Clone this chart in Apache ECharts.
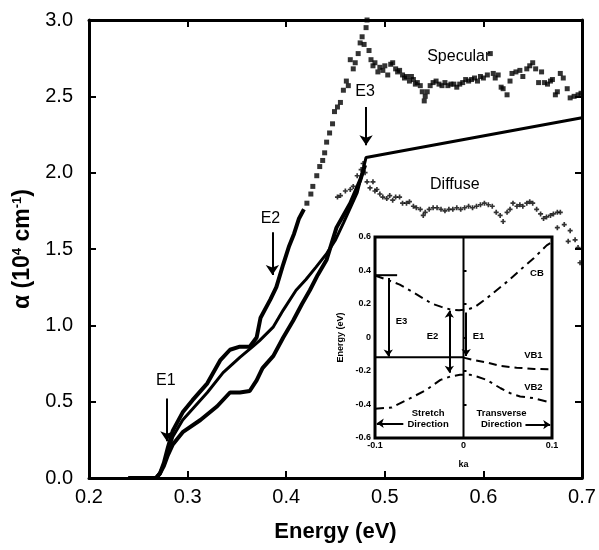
<!DOCTYPE html>
<html>
<head>
<meta charset="utf-8">
<script src="https://cdn.jsdelivr.net/npm/echarts@6/dist/echarts.min.js"></script>
<style>
  html, body { margin: 0; padding: 0; background: #fff; }
  #chart { width: 599px; height: 550px; }
</style>
</head>
<body>
<div id="chart"></div>
<script>
// ---- Absorption spectra: alpha vs photon energy ----
const specLineE = [0.240,0.268,0.272,0.276,0.280,0.285,0.295,0.305,0.320,0.333,0.343,0.353,0.363,0.370,0.374,0.384,0.390,0.397,0.403,0.408,0.413,0.418];
const specLineA = [0.00,0.00,0.03,0.10,0.20,0.31,0.43,0.51,0.62,0.77,0.84,0.86,0.86,0.92,1.05,1.17,1.25,1.40,1.52,1.60,1.70,1.76];

const specDotE = [0.421,0.425,0.427,0.431,0.434,0.437,0.439,0.441,0.444,0.447,0.449,0.452,0.455,0.458,0.461,0.463,0.465,0.468,0.470,0.473,0.475,0.477,0.479,0.481,0.482,0.484,0.486,0.488,0.490,0.493,0.495,0.498,0.500,0.503,0.506,0.508,0.511,0.513,0.515,0.518,0.520,0.522,0.525,0.527,0.529,0.531,0.533,0.536,0.538,0.540,0.541,0.543,0.546,0.549,0.552,0.555,0.558,0.561,0.564,0.567,0.570,0.573,0.576,0.579,0.582,0.585,0.588,0.591,0.594,0.597,0.600,0.604,0.607,0.610,0.612,0.615,0.618,0.620,0.624,0.627,0.629,0.633,0.637,0.640,0.644,0.647,0.650,0.653,0.656,0.659,0.662,0.665,0.668,0.670,0.673,0.675,0.678,0.681,0.685,0.688,0.692,0.696,0.699];
const specDotA = [1.80,1.86,1.91,1.98,2.04,2.08,2.13,2.20,2.26,2.32,2.40,2.43,2.46,2.54,2.60,2.57,2.74,2.68,2.72,2.78,2.85,2.89,2.84,2.95,3.00,2.80,2.74,2.70,2.72,2.66,2.69,2.67,2.70,2.64,2.71,2.72,2.68,2.66,2.67,2.64,2.62,2.63,2.60,2.63,2.61,2.58,2.59,2.57,2.53,2.47,2.50,2.53,2.57,2.59,2.60,2.58,2.57,2.59,2.57,2.58,2.58,2.56,2.58,2.59,2.61,2.60,2.61,2.62,2.60,2.63,2.62,2.64,2.78,2.65,2.62,2.64,2.56,2.55,2.51,2.60,2.65,2.66,2.67,2.63,2.68,2.70,2.72,2.68,2.59,2.66,2.59,2.58,2.60,2.61,2.51,2.53,2.65,2.62,2.55,2.49,2.50,2.51,2.52];

const diffLineE = [0.240,0.268,0.272,0.276,0.280,0.285,0.295,0.313,0.330,0.343,0.353,0.363,0.370,0.376,0.387,0.397,0.407,0.416,0.424,0.432,0.441,0.451,0.465,0.475,0.480];
const diffLineA = [0.00,0.00,0.03,0.08,0.15,0.22,0.30,0.38,0.47,0.56,0.56,0.57,0.64,0.72,0.80,0.92,1.03,1.14,1.23,1.33,1.43,1.64,1.80,1.95,2.05];

const diffDotE = [0.452,0.455,0.460,0.465,0.468,0.472,0.476,0.478,0.480,0.482,0.485,0.488,0.490,0.492,0.495,0.498,0.502,0.505,0.508,0.511,0.515,0.518,0.522,0.525,0.529,0.532,0.536,0.539,0.541,0.545,0.549,0.553,0.557,0.561,0.565,0.569,0.573,0.577,0.581,0.585,0.589,0.593,0.597,0.601,0.605,0.609,0.613,0.617,0.620,0.624,0.627,0.630,0.634,0.637,0.640,0.644,0.647,0.650,0.654,0.658,0.661,0.664,0.668,0.671,0.675,0.678,0.675,0.682,0.688,0.686,0.693,0.696,0.698];
const diffDotA = [1.84,1.85,1.88,1.89,1.91,1.98,2.02,2.06,2.00,1.94,1.90,1.94,1.88,1.89,1.86,1.84,1.83,1.85,1.82,1.84,1.84,1.80,1.80,1.81,1.78,1.77,1.76,1.72,1.74,1.76,1.77,1.77,1.76,1.75,1.76,1.76,1.77,1.76,1.77,1.78,1.77,1.78,1.79,1.80,1.79,1.78,1.74,1.72,1.68,1.74,1.76,1.80,1.78,1.79,1.78,1.80,1.81,1.80,1.76,1.73,1.70,1.71,1.72,1.73,1.74,1.74,1.64,1.66,1.62,1.55,1.56,1.51,1.41];

// third trace, ending at E3 and continued by a straight segment
const midE = [0.240,0.268,0.272,0.276,0.280,0.285,0.295,0.320,0.336,0.353,0.366,0.373,0.387,0.397,0.410,0.420,0.430,0.441,0.450,0.458,0.465,0.472,0.478,0.481,0.700];
const midA = [0.00,0.00,0.03,0.09,0.17,0.27,0.38,0.56,0.69,0.79,0.86,0.90,0.99,1.10,1.23,1.30,1.38,1.47,1.56,1.67,1.77,1.87,2.02,2.10,2.36];

const xTicks = [0.2,0.3,0.4,0.5,0.6,0.7];
const yTicks = [0.0,0.5,1.0,1.5,2.0,2.5,3.0];

// transition markers on the main plot: [label, energy, alpha top, alpha tip]
const mainArrows = [['E1',0.279,0.52,0.24],['E2',0.386,1.61,1.33],['E3',0.481,2.43,2.18]];
const mainLabels = [['E1',0.278,0.64],['E2',0.384,1.70],['E3',0.480,2.53],['Specular',0.575,2.76],['Diffuse',0.571,1.92]];

// ---- Inset: band dispersion near k = 0 ----
const cbK = [-0.100,-0.085,-0.072,-0.058,-0.036,-0.025,-0.015,-0.005,0.005,0.013,0.026,0.049,0.068,0.079,0.094,0.100];
const cbE = [0.37,0.342,0.316,0.273,0.203,0.183,0.167,0.163,0.168,0.183,0.233,0.332,0.421,0.471,0.550,0.570];
const vb1K = [0.000,0.011,0.025,0.042,0.060,0.080,0.100];
const vb1E = [-0.12,-0.134,-0.148,-0.170,-0.180,-0.188,-0.190];
const vb2K = [-0.100,-0.081,-0.060,-0.042,-0.026,-0.015,-0.004,0.008,0.015,0.026,0.042,0.053,0.064,0.079,0.094,0.100];
const vb2E = [-0.425,-0.418,-0.362,-0.313,-0.253,-0.233,-0.223,-0.223,-0.233,-0.253,-0.303,-0.333,-0.352,-0.362,-0.382,-0.390];
const flatK = [-0.100,0.000];
const flatE = [-0.118,-0.118];
const kZeroK = [0,0];
const kZeroE = [-0.6,0.6];
const topMarkK = [-0.100,-0.075];
const topMarkE = [0.372,0.372];

const insetArrows = [
  {k:-0.085, from:0.355, to:-0.113, both:false},
  {k:-0.016, from:0.160, to:-0.210, both:true},
  {k:0.003, from:0.150, to:-0.110, both:false}
];
const insetLabels = [['E3',-0.070,0.094],['E2',-0.035,0.005],['E1',0.017,0.005],['VB1',0.079,-0.104],['VB2',0.079,-0.300],['CB',0.083,0.385],
  ['Stretch\nDirection',-0.040,-0.487],['Transverse\nDirection',0.043,-0.487]];
const insetDirArrows = [[-0.068,-0.098,-0.512],[0.070,0.098,-0.520]];

const FONT = "'Liberation Sans Narrow','Liberation Sans',Arial,sans-serif";
const pair = (a,b) => a.map((v,i)=>[v,b[i]]);

const plusSym = 'path://M2,0H4V2H6V4H4V6H2V4H0V2H2Z';

const chart = echarts.init(document.getElementById('chart'), null, {renderer:'canvas'});

const axisBase = {
  axisLine:{show:true, onZero:false, lineStyle:{color:'#000', width:3}},
  axisTick:{show:true, inside:true, length:7, lineStyle:{color:'#000', width:2}},
  splitLine:{show:false}
};

const option = {
  animation:false,
  backgroundColor:'#fff',
  grid:[
    {left:89, right:17, top:20, bottom:72, show:false},
    {left:375, top:237, width:177, height:201, show:true, backgroundColor:'#fff', borderColor:'#000', borderWidth:3, z:5}
  ],
  xAxis:[
    Object.assign({type:'value', gridIndex:0, min:0.2, max:0.7, interval:0.1,
      axisLabel:{color:'#000', fontSize:20, fontFamily:FONT, margin:9, formatter:v=>v.toFixed(1)},
      name:'Energy (eV)', nameLocation:'middle', nameGap:43,
      nameTextStyle:{color:'#000', fontSize:22, fontWeight:'bold', fontFamily:FONT}}, axisBase),
    Object.assign({type:'value', gridIndex:0, min:0.2, max:0.7, interval:0.1, position:'top',
      axisLabel:{show:false}}, axisBase),
    {type:'value', gridIndex:1, min:-0.1, max:0.1, interval:0.1, z:6,
      axisLine:{show:false}, axisTick:{show:false}, splitLine:{show:false},
      axisLabel:{color:'#000', fontSize:9, fontWeight:'bold', fontFamily:FONT, margin:3,
        formatter:v=>Math.abs(v)<1e-9?'0':v.toFixed(1)},
      name:'ka', nameLocation:'middle', nameGap:22,
      nameTextStyle:{color:'#000', fontSize:9, fontWeight:'bold', fontFamily:FONT}}
  ],
  yAxis:[
    Object.assign({type:'value', gridIndex:0, min:0, max:3, interval:0.5,
      axisLabel:{color:'#000', fontSize:20, fontFamily:FONT, margin:16, formatter:v=>v.toFixed(1)},
      name:'{a|α (10}{s|4}{a| cm}{s|-1}{a|)}', nameLocation:'middle', nameGap:52,
      nameTextStyle:{color:'#000', fontFamily:FONT,
        rich:{a:{fontSize:23, fontWeight:'bold', fontFamily:FONT, color:'#000'},
              s:{fontSize:13, fontWeight:'bold', fontFamily:FONT, color:'#000', padding:[0,0,10,0]}}}}, axisBase),
    Object.assign({type:'value', gridIndex:0, min:0, max:3, interval:0.5, position:'right',
      axisLabel:{show:false}}, axisBase),
    {type:'value', gridIndex:1, min:-0.6, max:0.6, interval:0.2, z:6,
      axisLine:{show:false}, splitLine:{show:false},
      axisTick:{show:true, inside:true, length:3, lineStyle:{color:'#000', width:2}},
      axisLabel:{color:'#000', fontSize:9, fontWeight:'bold', fontFamily:FONT, margin:4,
        formatter:v=>Math.abs(v)<1e-9?'0':v.toFixed(1)},
      name:'Energy (eV)', nameLocation:'middle', nameGap:30,
      nameTextStyle:{color:'#000', fontSize:9, fontWeight:'bold', fontFamily:FONT}}
  ],
  series:[
    {type:'line', xAxisIndex:0, yAxisIndex:0, data:pair(specLineE,specLineA), showSymbol:false,
      lineStyle:{color:'#000', width:4}, z:3},
    {type:'scatter', xAxisIndex:0, yAxisIndex:0, data:pair(specDotE,specDotA), symbol:'rect', symbolSize:5,
      itemStyle:{color:'#000'}, z:3},
    {type:'line', xAxisIndex:0, yAxisIndex:0, data:pair(diffLineE,diffLineA), showSymbol:false,
      lineStyle:{color:'#000', width:4}, z:3},
    {type:'scatter', xAxisIndex:0, yAxisIndex:0, data:pair(diffDotE,diffDotA), symbol:plusSym, symbolSize:5,
      itemStyle:{color:'#000'}, z:3},
    {type:'line', xAxisIndex:0, yAxisIndex:0, data:pair(midE,midA), showSymbol:false,
      lineStyle:{color:'#000', width:3}, z:3,
      markLine:{silent:true, symbol:['none','arrow'], symbolSize:10, label:{show:false},
        lineStyle:{color:'#000', width:2, type:'solid'},
        data:mainArrows.map(a=>[{coord:[a[1],a[2]]},{coord:[a[1],a[3]]}])}},
    // inset
    {type:'line', xAxisIndex:2, yAxisIndex:2, data:pair(cbK,cbE), showSymbol:false, z:7,
      lineStyle:{color:'#000', width:2, type:[9,5,3,5]}},
    {type:'line', xAxisIndex:2, yAxisIndex:2, data:pair(vb1K,vb1E), showSymbol:false, z:7,
      lineStyle:{color:'#000', width:2, type:[8,5]}},
    {type:'line', xAxisIndex:2, yAxisIndex:2, data:pair(vb2K,vb2E), showSymbol:false, z:7,
      lineStyle:{color:'#000', width:2, type:[9,5,3,5]}},
    {type:'line', xAxisIndex:2, yAxisIndex:2, data:pair(flatK,flatE), showSymbol:false, z:7,
      lineStyle:{color:'#000', width:2}},
    {type:'line', xAxisIndex:2, yAxisIndex:2, data:pair(kZeroK,kZeroE), showSymbol:false, z:7,
      lineStyle:{color:'#000', width:2}},
    {type:'line', xAxisIndex:2, yAxisIndex:2, data:pair(topMarkK,topMarkE), showSymbol:false, z:7,
      lineStyle:{color:'#000', width:2},
      markLine:{silent:true, symbolSize:7, label:{show:false},
        lineStyle:{color:'#000', width:2, type:'solid'},
        data:insetArrows.map(a=>[{coord:[a.k,a.from], symbol:a.both?'arrow':'none'},{coord:[a.k,a.to], symbol:'arrow'}])
          .concat(insetDirArrows.map(a=>[{coord:[a[0],a[2]], symbol:'none'},{coord:[a[1],a[2]], symbol:'arrow'}]))}}
  ]
};
chart.setOption(option);

// text annotations placed in data coordinates
const g = [];
mainLabels.forEach(l=>{
  const p = chart.convertToPixel({xAxisIndex:0, yAxisIndex:0}, [l[1],l[2]]);
  g.push({type:'text', x:p[0], y:p[1], z:20, style:{text:l[0], fill:'#000', fontSize:16, fontFamily:FONT,
    align:'center', verticalAlign:'middle'}});
});
insetLabels.forEach(l=>{
  const p = chart.convertToPixel({xAxisIndex:2, yAxisIndex:2}, [l[1],l[2]]);
  g.push({type:'text', x:p[0], y:p[1], z:20, style:{text:l[0], fill:'#000', fontSize:9.5, fontWeight:'bold', fontFamily:FONT,
    align:'center', verticalAlign:'middle', lineHeight:11}});
});
chart.setOption({graphic:g});
</script>
</body>
</html>
